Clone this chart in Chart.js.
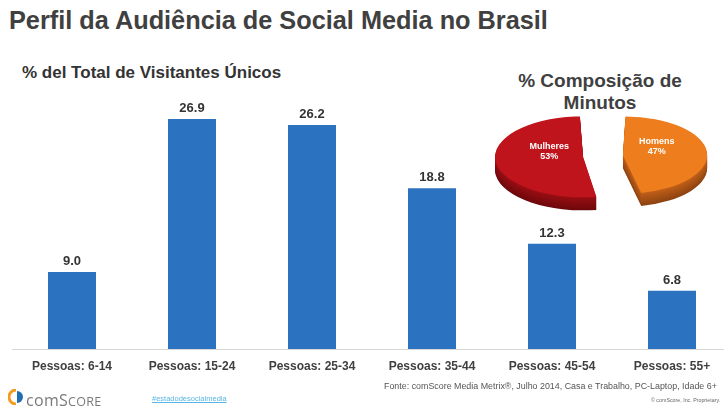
<!DOCTYPE html>
<html>
<head>
<meta charset="utf-8">
<script src="https://cdn.jsdelivr.net/npm/chart.js@4.4.1/dist/chart.umd.min.js"></script>
<style>
  html, body { margin:0; padding:0; background:#fff; width:724px; height:407px; overflow:hidden; position:relative; font-family:"Liberation Sans", Arial, sans-serif; }
  .abs { position:absolute; white-space:nowrap; }
  #barWrap { position:absolute; left:0; top:0; width:744px; height:407px; }
  #pieWrap { position:absolute; left:473px; top:56px; width:260px; height:200px; }
</style>
</head>
<body>
<div class="abs" id="title" style="left:9px; top:6px; font-size:25.3px; font-weight:bold; color:#404040;">Perfil da Audiência de Social Media no Brasil</div>
<div class="abs" id="sub" style="left:22px; top:63px; font-size:17px; font-weight:bold; color:#333;">% del Total de Visitantes Únicos</div>
<div class="abs" id="pieTitle" style="left:500px; top:70px; width:200px; text-align:center; font-size:19px; line-height:22px; font-weight:bold; color:#404040;">% Composição de<br>Minutos</div>

<div id="barWrap"><canvas id="bars"></canvas></div>
<div id="pieWrap"><canvas id="pie"></canvas></div>

<div class="abs" style="left:8px; top:389px;">
  <svg width="16" height="16" viewBox="0 0 16 16">
    <path d="M8 1 A7 7 0 0 0 8 15" fill="none" stroke="#f39c1f" stroke-width="3"/>
    <path d="M9 2 A6 6 0 0 1 9 14 Z" fill="#1f6fb5"/>
  </svg>
</div>
<div class="abs" style="left:26px; top:389px; font-size:16px; color:#7a7a7a; font-family:'Open Sans','Liberation Sans',sans-serif; letter-spacing:0.3px;">com<span style="font-size:16px">S</span><span style="font-size:12.5px">CORE</span></div>
<div class="abs" style="left:152px; top:394px; font-size:7.5px; color:#5ab6e4; text-decoration:underline;">#estadodesocialmedia</div>
<div class="abs" style="left:384px; top:381px; font-size:8.9px; color:#555;">Fonte: comScore Media Metrix®, Julho 2014, Casa e Trabalho, PC-Laptop, Idade 6+</div>
<div class="abs" style="left:651px; top:397px; font-size:5.3px; color:#666;">© comScore, Inc. Proprietary.</div>

<script>
// ---- data ----
const categories = ['Pessoas: 6-14', 'Pessoas: 15-24', 'Pessoas: 25-34', 'Pessoas: 35-44', 'Pessoas: 45-54', 'Pessoas: 55+'];
const visitorShare = [9.0, 26.9, 26.2, 18.8, 12.3, 6.8];
const genderLabels = ['Homens', 'Mulheres'];
const minutesShare = [47, 53];

// ---- styles ----
const barColor = '#2b72c0';
const topColors = ['#ee7d1e', '#c0141c'];
const sideTop = ['#c2601a', '#9a0f14'];
const sideBottom = ['#8e4412', '#6e080c'];

const valueLabels = {
  id: 'valueLabels',
  afterDatasetsDraw(chart) {
    const ctx = chart.ctx;
    const meta = chart.getDatasetMeta(0);
    ctx.save();
    ctx.font = 'bold 13px "Liberation Sans", Arial, sans-serif';
    ctx.fillStyle = '#333';
    ctx.textAlign = 'center';
    ctx.textBaseline = 'alphabetic';
    meta.data.forEach((bar, i) => {
      ctx.fillText(visitorShare[i].toFixed(1), bar.x, bar.y - 7);
    });
    ctx.restore();
  }
};

new Chart(document.getElementById('bars'), {
  type: 'bar',
  data: {
    labels: categories,
    datasets: [{ data: visitorShare, backgroundColor: barColor, borderWidth: 0, categoryPercentage: 1, barPercentage: 0.4 }]
  },
  options: {
    responsive: true, maintainAspectRatio: false, animation: false,
    layout: { padding: { left: 12, right: 12, top: 92.5, bottom: 23.6 } },
    plugins: { legend: { display: false }, tooltip: { enabled: false }, title: { display: false } },
    scales: {
      x: {
        grid: { display: false, drawTicks: false },
        border: { display: true, color: '#d6d6d6', width: 1 },
        ticks: { color: '#404040', padding: 10, font: { family: '"Liberation Sans", Arial, sans-serif', size: 12, weight: 'bold' } }
      },
      y: { display: false, min: 0, max: 30 }
    }
  },
  plugins: [valueLabels]
});

const squash = 0.46, depth = 13;
function mix(a, b, t) {
  const pa = [1,3,5].map(k => parseInt(a.substr(k,2),16));
  const pb = [1,3,5].map(k => parseInt(b.substr(k,2),16));
  return 'rgb(' + pa.map((v,i) => Math.round(v + (pb[i]-v)*t)).join(',') + ')';
}
const pie3d = {
  id: 'pie3d',
  beforeDatasetsDraw(chart) {
    const ctx = chart.ctx;
    const meta = chart.getDatasetMeta(0);
    const cx = meta.data[0].x, cy = meta.data[0].y;
    ctx.save();
    ctx.translate(cx, cy); ctx.scale(1, squash); ctx.translate(-cx, -cy);
    for (let d = depth; d >= 1; d--) {
      ctx.save();
      ctx.translate(0, d / squash);
      const t = d / depth;
      meta.data.forEach((el, i) => {
        const fake = Object.create(el);
        fake.options = Object.assign({}, el.options, { backgroundColor: mix(sideTop[i], sideBottom[i], t), borderWidth: 0 });
        fake.draw(ctx);
      });
      ctx.restore();
    }
  },
  afterDatasetsDraw(chart) {
    const ctx = chart.ctx;
    ctx.restore();
    const meta = chart.getDatasetMeta(0);
    ctx.save();
    ctx.fillStyle = '#fff';
    ctx.font = 'bold 9px "Liberation Sans", Arial, sans-serif';
    ctx.textAlign = 'center';
    ctx.textBaseline = 'middle';
    meta.data.forEach((el, i) => {
      const mid = (el.startAngle + el.endAngle) / 2;
      const r = (el.options.offset || 0) / 4 + el.outerRadius * 0.5;
      const x = el.x + Math.cos(mid) * r;
      const y = el.y + Math.sin(mid) * r * squash - 7;
      ctx.fillText(genderLabels[i], x, y - 5);
      ctx.fillText(minutesShare[i] + '%', x, y + 5);
    });
    ctx.restore();
  }
};

new Chart(document.getElementById('pie'), {
  type: 'pie',
  data: {
    labels: genderLabels,
    datasets: [{ data: minutesShare, backgroundColor: topColors, borderWidth: 0, offset: 80, radius: 68, clip: false }]
  },
  options: {
    responsive: true, maintainAspectRatio: false, animation: false,
    rotation: 0,
    layout: { padding: 0 },
    plugins: { legend: { display: false }, tooltip: { enabled: false } }
  },
  plugins: [pie3d]
});
</script>
</body>
</html>
